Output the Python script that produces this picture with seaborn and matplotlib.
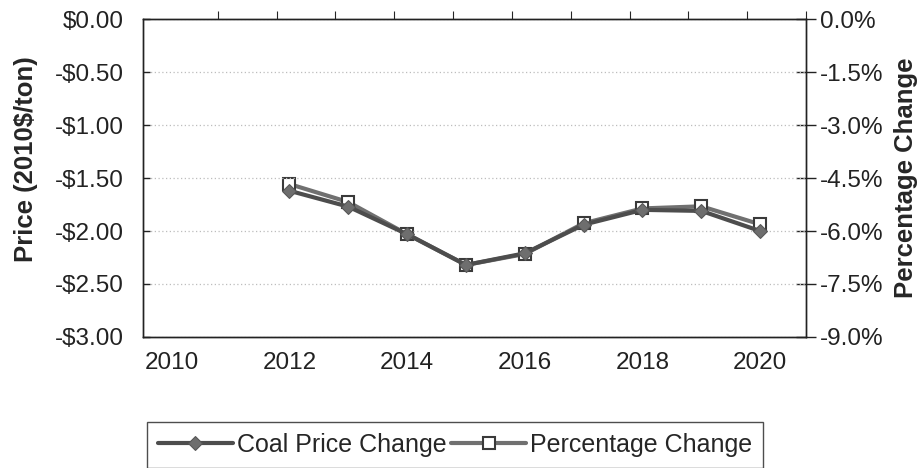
import numpy as np
import matplotlib
matplotlib.use("Agg")
import matplotlib.pyplot as plt
import matplotlib.ticker as mticker
import seaborn as sns

years = [2012, 2013, 2014, 2015, 2016, 2017, 2018, 2019, 2020]
coal_price_change = [-1.62, -1.77, -2.03, -2.32, -2.21, -1.94, -1.80, -1.81, -2.00]
pct_change = [-4.67, -5.18, -6.09, -6.96, -6.65, -5.78, -5.36, -5.30, -5.81]
year_ticks = [2010, 2012, 2014, 2016, 2018, 2020]

sns.set_theme(style="white")
plt.rcParams["font.family"] = ["Liberation Sans", "DejaVu Sans"]

fig = plt.figure(figsize=(9.19, 4.68), dpi=100)
ax = fig.add_axes([0.1556, 0.280, 0.7215, 0.679])
ax2 = ax.twinx()

sns.lineplot(x=years, y=coal_price_change, ax=ax, color="#4d4d4d", lw=3,
             marker="D", markersize=7, markerfacecolor="#6e6e6e",
             markeredgecolor="#555555", label="Coal Price Change", legend=False)
sns.lineplot(x=years, y=pct_change, ax=ax2, color="#707070", lw=3,
             marker="s", markersize=9, markerfacecolor="white",
             markeredgecolor="#3a3a3a", markeredgewidth=1.5,
             label="Percentage Change", legend=False)

ax.set_xlim(2009.51, 2020.78)
ax.set_ylim(-3.0, 0.0)
ax2.set_ylim(-9.0, 0.0)
ax.set_yticks(np.arange(-3.0, 0.01, 0.5))
ax2.set_yticks(np.arange(-9.0, 0.01, 1.5))
ax.set_xticks(year_ticks)
ax.yaxis.set_major_formatter(mticker.FuncFormatter(
    lambda v, p: ("-" if v < -1e-9 else "") + "${:.2f}".format(abs(v))))
ax2.yaxis.set_major_formatter(mticker.FuncFormatter(lambda v, p: "{:.1f}%".format(v)))

ax.yaxis.grid(True, color="#bdbdbd", linestyle=(0, (1, 2)), lw=0.9)
ax.xaxis.grid(False)
ax.set_zorder(ax2.get_zorder() + 1)
ax.patch.set_visible(False)

for a in (ax, ax2):
    for s in a.spines.values():
        s.set_color("#222222")
        s.set_linewidth(1.0)

ax.tick_params(axis="x", bottom=False, labelsize=17.5, pad=5, colors="#222222")
ax.tick_params(axis="y", left=True, direction="in", length=5, width=1,
               labelsize=17.5, pad=14, colors="#222222")
ax2.tick_params(axis="y", right=True, direction="inout", length=14, width=1,
                labelsize=17.5, pad=3, colors="#222222")

top = ax.secondary_xaxis("top")
top.set_xticks([2020.78 - k for k in range(11)])
top.tick_params(direction="out", length=6, width=0.8, labeltop=False)
top.spines["top"].set_visible(False)

ax.set_ylabel("Price (2010$/ton)", fontsize=18.5, fontweight="bold")
ax.yaxis.set_label_coords(-0.158, 0.56)
ax2.set_ylabel("Percentage Change", fontsize=18.5, fontweight="bold")
ax2.yaxis.set_label_coords(1.132, 0.5)

h1, l1 = ax.get_legend_handles_labels()
h2, l2 = ax2.get_legend_handles_labels()
fig.legend(h1 + h2, l1 + l2, loc="upper center", bbox_to_anchor=(0.495, 0.099),
           ncol=2, fontsize=18, frameon=True, fancybox=False, edgecolor="#222222",
           handlelength=3.0, columnspacing=0.2, handletextpad=0.15, borderpad=0.45,
           borderaxespad=0)

fig.savefig("out.png", dpi=100)
